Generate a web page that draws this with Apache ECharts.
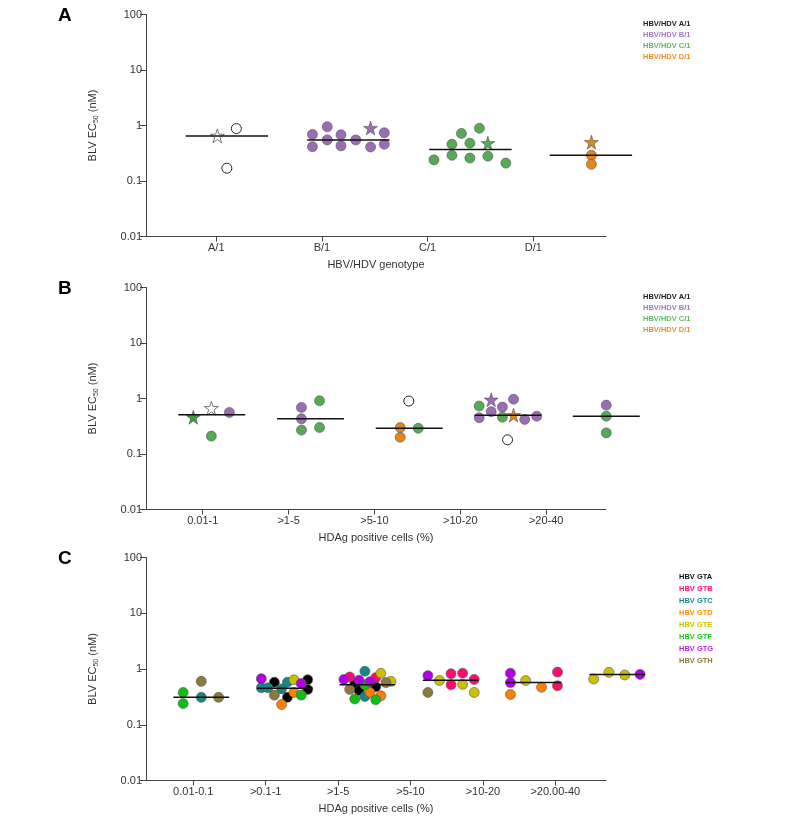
<!DOCTYPE html>
<html>
<head>
<meta charset="utf-8">
<script src="https://cdn.jsdelivr.net/npm/echarts@6/dist/echarts.min.js"></script>
<style>html,body{margin:0;padding:0;background:#fff;}#c{width:787px;height:821px;}</style>
</head>
<body>
<div id="c"></div>
<script>
// ---------------- DATA ----------------
// Y tick labels (log axis decades)
const yTicks = [0.01, 0.1, 1, 10, 100];

// Panel A: HBV/HDV genotype
const catsA = ['A/1', 'B/1', 'C/1', 'D/1'];
const aWhiteCircle = [[1.19, 0.88], [1.10, 0.17]];
const aWhiteStar = [[1.01, 0.65]];
const aPurpleCircle = [[1.91, 0.69], [1.91, 0.415], [2.05, 0.95], [2.05, 0.55], [2.18, 0.68], [2.18, 0.43], [2.32, 0.55], [2.46, 0.41], [2.59, 0.74], [2.59, 0.46]];
const aPurpleStar = [[2.46, 0.90]];
const aGreenCircle = [[3.06, 0.24], [3.23, 0.46], [3.23, 0.29], [3.32, 0.72], [3.40, 0.48], [3.40, 0.26], [3.49, 0.89], [3.57, 0.28], [3.74, 0.21]];
const aGreenStar = [[3.57, 0.48]];
const aOrangeCircle = [[4.55, 0.29], [4.55, 0.20]];
const aOrangeStar = [[4.55, 0.50]];
const medPosA = [1.10, 2.25, 3.405, 4.545];
const medValA = [0.65, 0.55, 0.37, 0.29];

// Panel B: HDAg positive cells (%)
const catsB = ['0.01-1', '>1-5', '>5-10', '>10-20', '>20-40'];
const bWhiteCircle = [[3.40, 0.90], [4.55, 0.18]];
const bWhiteStar = [[1.10, 0.67]];
const bPurpleCircle = [[1.31, 0.56], [2.15, 0.69], [2.15, 0.43], [4.36, 0.58], [4.22, 0.45], [4.49, 0.70], [4.62, 0.97], [4.75, 0.42], [4.89, 0.48], [5.70, 0.76]];
const bPurpleStar = [[4.36, 0.95]];
const bGreenCircle = [[1.10, 0.21], [2.36, 0.91], [2.15, 0.27], [2.36, 0.30], [3.51, 0.29], [4.22, 0.73], [4.49, 0.46], [5.70, 0.48], [5.70, 0.24]];
const bGreenStar = [[0.89, 0.46]];
const bOrangeCircle = [[3.30, 0.30], [3.30, 0.20]];
const bOrangeStar = [[4.62, 0.50]];
const medPosB = [1.105, 2.255, 3.405, 4.555, 5.70];
const medValB = [0.51, 0.43, 0.29, 0.50, 0.48];

// Panel C: HDAg positive cells (%) by HBV genotype
const catsC = ['0.01-0.1', '>0.1-1', '>1-5', '>5-10', '>10-20', '>20.00-40'];
const cGTA = [[2.12, 0.58], [2.30, 0.31], [2.58, 0.64], [2.58, 0.43], [3.23, 0.53], [3.29, 0.41], [3.52, 0.48]];
const cGTB = [[3.16, 0.72], [3.52, 0.70], [4.56, 0.82], [4.56, 0.52], [4.72, 0.84], [4.88, 0.65], [6.03, 0.88], [6.03, 0.50]];
const cGTC = [[1.11, 0.31], [1.94, 0.46], [2.03, 0.46], [2.22, 0.44], [2.30, 0.58], [3.37, 0.91], [3.37, 0.32]];
const cGTD = [[2.22, 0.23], [2.39, 0.38], [3.44, 0.38], [3.59, 0.33], [5.38, 0.35], [5.81, 0.47]];
const cGTE = [[2.39, 0.64], [3.59, 0.84], [3.73, 0.60], [4.40, 0.62], [4.72, 0.53], [4.88, 0.38], [5.59, 0.62], [6.53, 0.66], [6.74, 0.87], [6.96, 0.78]];
const cGTF = [[0.86, 0.38], [0.86, 0.24], [2.49, 0.34], [3.37, 0.52], [3.23, 0.29], [3.52, 0.28]];
const cGTG = [[1.94, 0.67], [2.49, 0.55], [3.08, 0.65], [3.29, 0.63], [3.44, 0.59], [4.24, 0.76], [5.38, 0.84], [5.38, 0.57], [7.17, 0.80]];
const cGTH = [[1.11, 0.60], [1.35, 0.31], [2.12, 0.34], [3.16, 0.43], [3.66, 0.57], [4.24, 0.38]];
const medPosC = [1.11, 2.265, 3.405, 4.555, 5.70, 6.855];
const medValC = [0.31, 0.45, 0.52, 0.63, 0.57, 0.80];

const legendAB = ['HBV/HDV A/1', 'HBV/HDV B/1', 'HBV/HDV C/1', 'HBV/HDV D/1'];
const legendC = ['HBV GTA', 'HBV GTB', 'HBV GTC', 'HBV GTD', 'HBV GTE', 'HBV GTF', 'HBV GTG', 'HBV GTH'];

// ---------------- STYLE ----------------
const FONT = "'Liberation Sans', Arial, Helvetica, sans-serif";
const AXC = '#444';
const TXT = '#333';
const STAR = 'path://M50,0 L61.2,34.5 L97.6,34.5 L68.2,55.9 L79.4,90.5 L50,69.1 L20.6,90.5 L31.8,55.9 L2.4,34.5 L38.8,34.5 Z';
const colAB = { white: '#ffffff', purple: '#9b6db5', green: '#57a957', orange: '#e0861a' };
const legColAB = ['#222222', '#a27cc2', '#63b863', '#e8902a'];
const colC = ['#000000', '#ff0a6e', '#158585', '#ff8000', '#c8c000', '#10c010', '#b000e6', '#8c7a3c'];
const legColC = ['#111111', '#ff1a75', '#1a8a8a', '#ff8c1a', '#c4c400', '#1ec81e', '#b428e6', '#8c7a40'];

const grids = [
  { left: 146, top: 14.5, width: 460, height: 222 },
  { left: 146, top: 287.5, width: 460, height: 222 },
  { left: 146, top: 557.5, width: 460, height: 223 }
];
const xRange = [[0.335, 4.688], [0.339, 5.697], [0.347, 6.70]];

function xAx(i, cats, name) {
  const vals = cats.map((_, k) => k + 1);
  return {
    type: 'value', gridIndex: i, min: xRange[i][0], max: xRange[i][1],
    name: name, nameLocation: 'middle', nameGap: 23,
    nameTextStyle: { fontSize: 11, color: TXT, fontFamily: FONT },
    axisLine: { show: true, onZero: false, lineStyle: { color: AXC, width: 1 } },
    axisTick: { show: true, length: 5, customValues: vals, lineStyle: { color: AXC, width: 1 } },
    axisLabel: { show: true, customValues: vals, formatter: v => cats[Math.round(v) - 1] || '', fontSize: 11, color: TXT, margin: 6, fontFamily: FONT },
    splitLine: { show: false }
  };
}
function yAx(i) {
  return {
    type: 'log', gridIndex: i, logBase: 10, min: yTicks[0], max: yTicks[yTicks.length - 1],
    name: '{a|BLV EC}{s|50}{a| (nM)}', nameLocation: 'middle', nameGap: 46, nameRotate: 90,
    nameTextStyle: { color: TXT, fontFamily: FONT, rich: {
      a: { fontSize: 11, color: TXT, fontFamily: FONT, lineHeight: 14 },
      s: { fontSize: 7, color: TXT, fontFamily: FONT, verticalAlign: 'bottom', lineHeight: 8, padding: [5, 0, 0, 0] }
    } },
    axisLine: { show: true, onZero: false, lineStyle: { color: AXC, width: 1 } },
    axisTick: { show: true, length: 6, lineStyle: { color: AXC, width: 1 } },
    axisLabel: { formatter: v => String(+(+v).toPrecision(3)), fontSize: 11, color: TXT, margin: 4, fontFamily: FONT },
    splitLine: { show: false }, minorTick: { show: false }
  };
}

function sc(name, data, g, fill, symbol, border) {
  const star = symbol === 'star';
  return {
    type: 'scatter', name: name, xAxisIndex: g, yAxisIndex: g, data: data,
    symbol: star ? STAR : symbol, symbolSize: star ? 14 : 10, clip: false, z: 2,
    itemStyle: { color: fill, borderColor: border || '#555', borderWidth: fill === '#ffffff' ? 1 : 0.6, opacity: 1 }
  };
}
// Median bars: drawn through the axes' scales (api.coord), half-width in category units
function medians(g, pos, val, hw) {
  return {
    type: 'custom', xAxisIndex: g, yAxisIndex: g, clip: false, z: 3, silent: true,
    data: pos.map((p, k) => [p, val[k]]),
    renderItem: function (params, api) {
      const p = api.value(0), v = api.value(1);
      const a = api.coord([p - hw, v]);
      const b = api.coord([p + hw, v]);
      return { type: 'line', shape: { x1: a[0], y1: a[1], x2: b[0], y2: b[1] },
        style: { stroke: '#111', lineWidth: 1.5 } };
    }
  };
}

const series = [
  sc('HBV/HDV A/1', aWhiteCircle, 0, colAB.white, 'circle', '#222'),
  sc('HBV/HDV B/1', aPurpleCircle, 0, colAB.purple, 'circle'),
  sc('HBV/HDV C/1', aGreenCircle, 0, colAB.green, 'circle'),
  sc('HBV/HDV D/1', aOrangeCircle, 0, colAB.orange, 'circle'),
  sc('HBV/HDV A/1', aWhiteStar, 0, colAB.white, 'star', '#777'),
  sc('HBV/HDV B/1', aPurpleStar, 0, colAB.purple, 'star'),
  sc('HBV/HDV C/1', aGreenStar, 0, colAB.green, 'star'),
  sc('HBV/HDV D/1', aOrangeStar, 0, colAB.orange, 'star'),
  medians(0, medPosA, medValA, 0.39),

  sc('HBV/HDV A/1', bWhiteCircle, 1, colAB.white, 'circle', '#222'),
  sc('HBV/HDV B/1', bPurpleCircle, 1, colAB.purple, 'circle'),
  sc('HBV/HDV C/1', bGreenCircle, 1, colAB.green, 'circle'),
  sc('HBV/HDV D/1', bOrangeCircle, 1, colAB.orange, 'circle'),
  sc('HBV/HDV A/1', bWhiteStar, 1, colAB.white, 'star', '#777'),
  sc('HBV/HDV B/1', bPurpleStar, 1, colAB.purple, 'star'),
  sc('HBV/HDV C/1', bGreenStar, 1, '#3f993f', 'star'),
  sc('HBV/HDV D/1', bOrangeStar, 1, colAB.orange, 'star'),
  medians(1, medPosB, medValB, 0.39),

  ...[cGTA, cGTB, cGTC, cGTD, cGTE, cGTF, cGTG, cGTH].map((d, k) => sc(legendC[k], d, 2, colC[k], 'circle')),
  medians(2, medPosC, medValC, 0.385)
];

const graphics = [];
[['A', 6], ['B', 279], ['C', 549]].forEach(([t, y]) => {
  graphics.push({ type: 'text', left: 58, top: y, style: { text: t, font: 'bold 19px ' + FONT, fill: '#000' } });
});
[23.5, 296.5].forEach(y0 => {
  legendAB.forEach((t, k) => graphics.push({ type: 'text', x: 643, y: y0 + 11 * k,
    style: { text: t, font: 'bold 7.5px ' + FONT, fill: legColAB[k], verticalAlign: 'middle' } }));
});
legendC.forEach((t, k) => graphics.push({ type: 'text', x: 679, y: 576.5 + 12 * k,
  style: { text: t, font: 'bold 7.5px ' + FONT, fill: legColC[k], verticalAlign: 'middle' } }));

const chart = echarts.init(document.getElementById('c'), null, { renderer: 'canvas' });
chart.setOption({
  backgroundColor: '#ffffff',
  animation: false,
  grid: grids,
  xAxis: [xAx(0, catsA, 'HBV/HDV genotype'), xAx(1, catsB, 'HDAg positive cells (%)'), xAx(2, catsC, 'HDAg positive cells (%)')],
  yAxis: [yAx(0), yAx(1), yAx(2)],
  series: series,
  graphic: graphics
});
</script>
</body>
</html>
